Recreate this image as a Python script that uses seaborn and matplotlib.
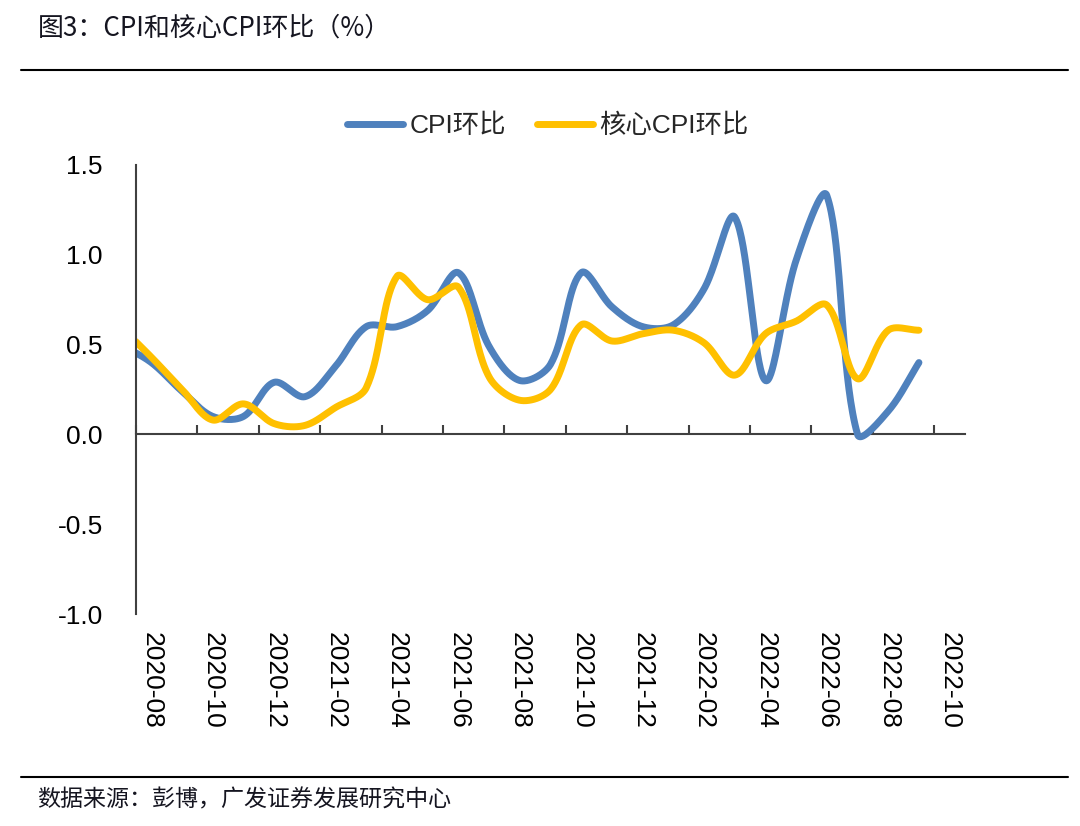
import numpy as np
import pandas as pd
import matplotlib
matplotlib.use("Agg")
import matplotlib.pyplot as plt
from matplotlib.lines import Line2D
import seaborn as sns

# ---------------- data ----------------
months = ['2020-07', '2020-08', '2020-09', '2020-10', '2020-11', '2020-12',
          '2021-01', '2021-02', '2021-03', '2021-04', '2021-05', '2021-06',
          '2021-07', '2021-08', '2021-09', '2021-10', '2021-11', '2021-12',
          '2022-01', '2022-02', '2022-03', '2022-04', '2022-05', '2022-06',
          '2022-07', '2022-08', '2022-09']
cpi_mom = [0.50, 0.40, 0.24, 0.10, 0.10, 0.29,
           0.21, 0.38, 0.60, 0.60, 0.69, 0.90,
           0.49, 0.30, 0.39, 0.90, 0.71, 0.60,
           0.61, 0.81, 1.21, 0.30, 0.97, 1.33,
           0.00, 0.13, 0.40]
core_cpi_mom = [0.60, 0.43, 0.25, 0.08, 0.17, 0.06,
                0.05, 0.15, 0.26, 0.88, 0.75, 0.82,
                0.32, 0.19, 0.25, 0.61, 0.52, 0.56,
                0.58, 0.51, 0.33, 0.56, 0.63, 0.72,
                0.31, 0.58, 0.58]
axis_start = '2020-08'
axis_end = '2022-10'
tick_labels = ['2020-08', '2020-10', '2020-12', '2021-02', '2021-04', '2021-06',
               '2021-08', '2021-10', '2021-12', '2022-02', '2022-04', '2022-06',
               '2022-08', '2022-10']
series_names = ['CPI环比', '核心CPI环比']
colors = ['#4F81BD', '#FFC000']
title = '图3：CPI和核心CPI环比（%）'
source = '数据来源：彭博，广发证券发展研究中心'
y_ticks = [-1.0, -0.5, 0.0, 0.5, 1.0, 1.5]

# ---------------- helpers ----------------
p0 = pd.Period(axis_start, 'M')
n_cat = (pd.Period(axis_end, 'M') - p0).n + 1
xpos = np.array([(pd.Period(m, 'M') - p0).n for m in months], dtype=float)
tick_pos = [(pd.Period(t, 'M') - p0).n for t in tick_labels]


def smooth_curve(x, y, sx=30.7, sy=180.0, n=40):
    """Excel-like smoothed line (chord-weighted Bezier)."""
    P = np.column_stack([np.asarray(x) * sx, np.asarray(y) * sy])
    N = len(P)
    pts = []
    t = np.linspace(0, 1, n)
    for i in range(N - 1):
        a = P[i - 1] if i > 0 else P[i]
        b = P[i]
        c = P[i + 1]
        d = P[i + 2] if i + 2 < N else P[i + 1]
        dab = np.linalg.norm(b - a)
        dbc = np.linalg.norm(c - b)
        dcd = np.linalg.norm(d - c)
        c1 = b + (c - a) * (dbc / (dab + dbc)) / 3.0
        c2 = c - (d - b) * (dbc / (dbc + dcd)) / 3.0
        tt = t if i == 0 else t[1:]
        seg = ((1 - tt) ** 3)[:, None] * b + (3 * (1 - tt) ** 2 * tt)[:, None] * c1 \
            + (3 * (1 - tt) * tt ** 2)[:, None] * c2 + (tt ** 3)[:, None] * c
        pts.append(seg)
    pts = np.vstack(pts)
    return pts[:, 0] / sx, pts[:, 1] / sy


frames = []
for name, vals in zip(series_names, [cpi_mom, core_cpi_mom]):
    sxv, syv = smooth_curve(xpos, vals)
    frames.append(pd.DataFrame({'x': sxv, 'y': syv, 'series': name}))
df = pd.concat(frames, ignore_index=True)

# ---------------- figure ----------------
sns.set_style('white')
plt.rcParams['font.family'] = ['Liberation Sans', 'Noto Sans CJK SC', 'DejaVu Sans']
plt.rcParams['axes.unicode_minus'] = False

W, H = 1080, 826
fig = plt.figure(figsize=(W / 100, H / 100), dpi=100)
fig.patch.set_facecolor('white')
ax = fig.add_axes([136 / W, 1 - 614 / H, (965 - 136) / W, (614 - 165) / H])

sns.lineplot(data=df, x='x', y='y', hue='series', palette=dict(zip(series_names, colors)),
             sort=False, estimator=None, linewidth=5, legend=False, ax=ax)
for ln in ax.lines:
    ln.set_solid_capstyle('round')
    ln.set_solid_joinstyle('round')

ymin, ymax = -1.0, 1.5
ax.set_xlim(-0.5, n_cat - 0.5)
ax.set_ylim(ymin, ymax)
ax.set_xlabel('')
ax.set_ylabel('')
ax.set_yticks(y_ticks)
ax.set_yticklabels([f'{v:.1f}' for v in y_ticks])
ax.set_xticks(tick_pos)
ax.set_xticklabels(tick_labels, rotation=-90, ha='center', va='top')
ax.tick_params(axis='x', length=0, pad=13, labelsize=19, labelcolor='black')
ax.tick_params(axis='y', direction='in', length=6.5, width=1.5, pad=24,
               labelsize=19, labelcolor='black', color='#404040')
for s in ['top', 'right', 'bottom']:
    ax.spines[s].set_visible(False)
ax.spines['left'].set_linewidth(1.5)
ax.spines['left'].set_color('#404040')
ax.grid(False)

# category axis crossing at zero
sec = ax.secondary_xaxis((0 - ymin) / (ymax - ymin))
sec.set_xticks(np.arange(-0.5, n_cat - 1, 2))
sec.tick_params(axis='x', direction='in', length=6.5, width=1.5, color='#404040',
                labelbottom=False, labeltop=False)
sec.spines['bottom'].set_linewidth(1.5)
sec.spines['bottom'].set_color('#404040')
sec.spines['top'].set_visible(False)

# legend
handles = [Line2D([], [], color=c, lw=5, solid_capstyle='round') for c in colors]
fig.legend(handles, series_names, loc='center', bbox_to_anchor=(548 / W, 1 - 126 / H),
           ncol=2, frameon=False, fontsize=19, handlelength=2.1, handletextpad=0.25,
           columnspacing=1.2)

# title, rules, source
fig.text(38 / W, 1 - 28 / H, title, fontsize=18.7, family=['Noto Sans CJK SC', 'DejaVu Sans'],
         ha='left', va='center', color='#151520')
fig.add_artist(Line2D([21 / W, 1068 / W], [1 - 70 / H] * 2, transform=fig.transFigure,
                      color='black', lw=1.5))
fig.add_artist(Line2D([21 / W, 1068 / W], [1 - 777 / H] * 2, transform=fig.transFigure,
                      color='black', lw=1.5))
fig.text(37 / W, 1 - 800 / H, source, fontsize=16.6, family=['Noto Sans CJK SC', 'DejaVu Sans'],
         ha='left', va='center', color='#151520')

fig.savefig('out.png', dpi=100)
